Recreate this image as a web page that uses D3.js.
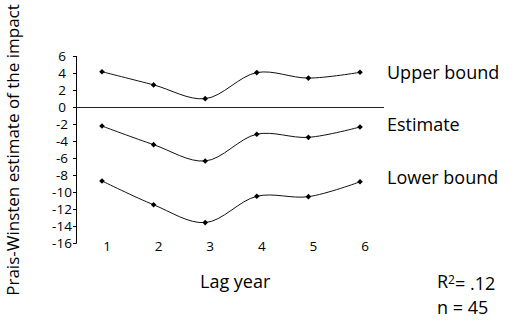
<!DOCTYPE html>
<html>
<head>
<meta charset="utf-8">
<script src="https://cdn.jsdelivr.net/npm/d3@7"></script>
<style>
  html, body { margin: 0; padding: 0; background: #fff; }
  svg { display: block; font-family: "Open Sans", "Noto Sans", sans-serif; }
</style>
</head>
<body>
<svg id="chart" width="518" height="321"></svg>
<script>
// Lag years on the x axis
const lagYears = [1, 2, 3, 4, 5, 6];
// Prais-Winsten estimates with confidence bounds
const upperBound = [4.15, 2.6, 0.98, 4.05, 3.4, 4.08];
const estimate   = [-2.24, -4.43, -6.35, -3.2, -3.57, -2.35];
const lowerBound = [-8.7, -11.5, -13.6, -10.5, -10.55, -8.8];
const seriesNames = ["Upper bound", "Estimate", "Lower bound"];
const yTicks = [6, 4, 2, 0, -2, -4, -6, -8, -10, -12, -14, -16];

const svg = d3.select("#chart");

const x = d3.scaleLinear().domain([1, 6]).range([102, 360]);
const y = d3.scaleLinear().domain([-16, 6]).range([243, 56]);

// y axis: ticks on the left, labels centred
const yAxis = svg.append("g").attr("transform", "translate(76.5,0)");
yAxis.append("line")
  .attr("y1", y(6)).attr("y2", y(-16) + 0.5)
  .attr("stroke", "#000").attr("stroke-width", 1);
yAxis.selectAll("line.tick").data(yTicks).enter().append("line")
  .attr("class", "tick")
  .attr("x1", -3.5).attr("x2", 0)
  .attr("y1", d => Math.round(y(d)) + 0.5).attr("y2", d => Math.round(y(d)) + 0.5)
  .attr("stroke", "#000");
yAxis.selectAll("text").data(yTicks).enter().append("text")
  .attr("x", -14.5).attr("y", d => y(d))
  .attr("dy", "0.35em")
  .attr("text-anchor", "middle")
  .attr("font-size", 13.5)
  .attr("fill", "#000")
  .text(d => d);

// zero reference line
svg.append("line")
  .attr("x1", 76.5).attr("x2", 384)
  .attr("y1", Math.round(y(0)) + 0.5).attr("y2", Math.round(y(0)) + 0.5)
  .attr("stroke", "#222").attr("stroke-width", 1);

// x tick labels
svg.append("g").selectAll("text").data(lagYears).enter().append("text")
  .attr("x", d => x(d) + 5).attr("y", 251)
  .attr("text-anchor", "middle")
  .attr("font-size", 13.5)
  .attr("fill", "#000")
  .text(d => d);

// smoothed series lines with diamond markers
const line = d3.line()
  .x((d, i) => x(lagYears[i]))
  .y(d => y(d))
  .curve(d3.curveCatmullRom.alpha(0.5));

const allSeries = [upperBound, estimate, lowerBound];
allSeries.forEach(vals => {
  svg.append("path")
    .attr("d", line(vals))
    .attr("fill", "none")
    .attr("stroke", "#111")
    .attr("stroke-width", 1);
  svg.append("g").selectAll("path").data(vals).enter().append("path")
    .attr("d", d3.symbol(d3.symbolDiamond2, 20)())
    .attr("transform", (d, i) => `translate(${x(lagYears[i])},${y(d)})`)
    .attr("fill", "#000");
});

// series labels at the right
const labelY = [73, 125, 178];
svg.append("g").selectAll("text").data(seriesNames).enter().append("text")
  .attr("x", 387).attr("y", (d, i) => labelY[i])
  .attr("dy", "0.35em")
  .attr("font-size", 18)
  .attr("fill", "#000")
  .text(d => d);

// axis titles
svg.append("text")
  .attr("x", 200).attr("y", 282).attr("dy", "0.35em")
  .attr("font-size", 18).attr("fill", "#000")
  .text("Lag year");

svg.append("text")
  .attr("transform", "translate(19,150) rotate(-90)")
  .attr("text-anchor", "middle")
  .attr("font-size", 17).attr("fill", "#000")
  .text("Prais-Winsten estimate of the impact");

// model statistics
const stats = svg.append("text")
  .attr("x", 437).attr("y", 282).attr("dy", "0.35em")
  .attr("font-size", 18).attr("fill", "#000");
stats.append("tspan").text("R");
stats.append("tspan").attr("font-size", 12).attr("dy", "-0.35em").text("2");
stats.append("tspan").attr("dy", "0.35em").text("= .12");

svg.append("text")
  .attr("x", 437).attr("y", 308).attr("dy", "0.35em")
  .attr("font-size", 18).attr("fill", "#000")
  .text("n = 45");
</script>
</body>
</html>
